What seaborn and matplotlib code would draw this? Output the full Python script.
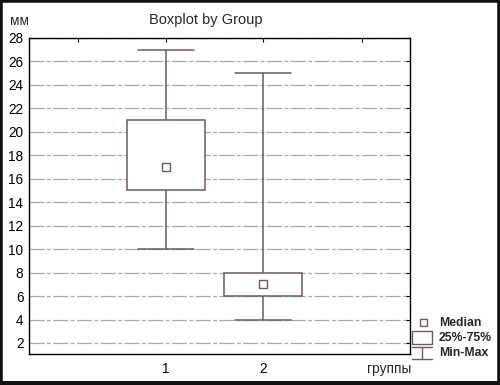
import numpy as np
import pandas as pd
import matplotlib
matplotlib.use("Agg")
import matplotlib.pyplot as plt
from matplotlib.patches import Rectangle
from matplotlib.lines import Line2D
import seaborn as sns

# ---- data ----
groups = [1, 2]
mins = [10, 4]
q1s = [15, 6]
medians = [17, 7]
q3s = [21, 8]
maxs = [27, 25]
ytick_values = [2, 4, 6, 8, 10, 12, 14, 16, 18, 20, 22, 24, 26, 28]
xtick_labels = ["", "1", "2", ""]

# five values per group reproduce min/Q1/median/Q3/max exactly
rows = []
for g, a, b, c, d, e in zip(groups, mins, q1s, medians, q3s, maxs):
    for v in (a, b, c, d, e):
        rows.append({"group": g, "value": v})
df = pd.DataFrame(rows)
med_df = pd.DataFrame({"group": groups, "median": medians})

sns.set_style("white")
plt.rcParams["font.family"] = ["Liberation Sans", "DejaVu Sans"]

W, H = 500, 385
fig = plt.figure(figsize=(W / 100, H / 100), dpi=100)
ax = fig.add_axes([29 / W, 1 - 354 / H, (410 - 29) / W, (354 - 38) / H])

LC = "#6e5c57"
sns.boxplot(data=df, x="group", y="value", native_scale=True, whis=(0, 100),
            width=0.8, color="white", linecolor=LC, linewidth=1.1,
            medianprops={"visible": False}, capwidths=0.58, ax=ax, zorder=3)
sns.scatterplot(data=med_df, x="group", y="median", marker="s", s=28,
                facecolor="white", edgecolor=LC, linewidth=1.0, ax=ax,
                zorder=5)

ax.set_xlim(-0.412, 3.515)
ax.set_ylim(1.06, 28)
ax.set_xticks([0.093, 1, 2, 3.02])
ax.set_xticklabels(xtick_labels)
ax.set_yticks(ytick_values)
ax.set_yticklabels([str(v) for v in ytick_values])
ax.set_xlabel("")
ax.set_ylabel("")
ax.tick_params(direction="in", top=True, right=True, length=3, width=0.8,
               labelsize=9.8, colors="black", pad=4)
ax.tick_params(axis="x", pad=6)
for s in ax.spines.values():
    s.set_color("black")
    s.set_linewidth(1.0)
    s.set_visible(True)

ax.yaxis.grid(True, color="#a8a8a8", linewidth=0.9,
              linestyle=(0, (12, 2, 3, 2)))
ax.xaxis.grid(False)
ax.set_axisbelow(True)

# texts
fig.text(206 / W, 1 - 20 / H, "Boxplot by Group", ha="center", va="center",
         fontsize=10.5)
fig.text(10 / W, 1 - 21 / H, "мм", ha="left", va="center", fontsize=9.8)
fig.text(411 / W, 1 - 369 / H, "группы", ha="right", va="center",
         fontsize=9.8)

# legend (drawn in pixel coordinates)
def px(x, y):
    return x / W, 1 - y / H

fig.add_artist(Rectangle(px(419.5, 326), 7 / W, 7 / H, transform=fig.transFigure,
                         facecolor="white", edgecolor=LC, linewidth=1.0))
fig.add_artist(Rectangle(px(412, 344), 20 / W, 13 / H, transform=fig.transFigure,
                         facecolor="white", edgecolor=LC, linewidth=1.0))
for (x0, y0), (x1, y1) in [((412, 347), (432, 347)), ((422, 347), (422, 359)),
                           ((412, 359), (432, 359))]:
    fig.add_artist(Line2D([x0 / W, x1 / W], [1 - y0 / H, 1 - y1 / H],
                          transform=fig.transFigure, color=LC, linewidth=1.0))
for y, t in [(323, "Median"), (338, "25%-75%"), (353, "Min-Max")]:
    fig.text(439 / W, 1 - y / H, t, ha="left", va="center", fontsize=8.8,
             fontweight="bold")

# outer frame
fig.add_artist(Rectangle((0, 0), 1, 1, transform=fig.transFigure,
                         fill=False, edgecolor="#111111", linewidth=4))
fig.add_artist(Rectangle((0, 0), 1, 4 / H, transform=fig.transFigure,
                         facecolor="#111111", edgecolor="none"))

fig.savefig("out.png", dpi=100)
